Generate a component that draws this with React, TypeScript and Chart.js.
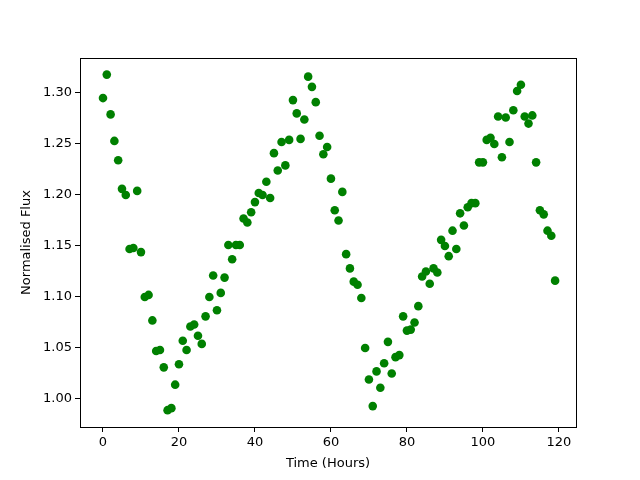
import React, { useEffect, useRef } from "react";
import { Chart, registerables } from "chart.js";

Chart.register(...registerables);

const hours: number[] = Array.from({ length: 120 }, (_, i) => i);
const flux: number[] = [
  1.295, 1.318, 1.279, 1.253, 1.234, 1.206, 1.200, 1.147, 1.148, 1.204,
  1.144, 1.100, 1.102, 1.077, 1.047, 1.048, 1.031, 0.989, 0.991, 1.014,
  1.034, 1.057, 1.048, 1.071, 1.073, 1.062, 1.054, 1.081, 1.100, 1.121,
  1.087, 1.104, 1.119, 1.151, 1.137, 1.151, 1.151, 1.177, 1.173, 1.183,
  1.193, 1.202, 1.200, 1.213, 1.197, 1.241, 1.224, 1.252, 1.229, 1.254,
  1.293, 1.280, 1.255, 1.274, 1.316, 1.306, 1.291, 1.258, 1.240, 1.247,
  1.216, 1.185, 1.175, 1.203, 1.142, 1.128, 1.115, 1.112, 1.099, 1.050,
  1.019, 0.993, 1.027, 1.011, 1.035, 1.056, 1.025, 1.041, 1.043, 1.081,
  1.067, 1.068, 1.075, 1.091, 1.120, 1.125, 1.113, 1.128, 1.124, 1.156,
  1.150, 1.140, 1.165, 1.147, 1.182, 1.170, 1.188, 1.192, 1.192, 1.232,
  1.232, 1.254, 1.256, 1.250, 1.277, 1.237, 1.276, 1.252, 1.283, 1.302,
  1.308, 1.277, 1.270, 1.278, 1.232, 1.185, 1.181, 1.165, 1.160, 1.116,
];
const xTicks: number[] = [0, 20, 40, 60, 80, 100, 120];
const yTicks: number[] = [1.0, 1.05, 1.1, 1.15, 1.2, 1.25, 1.3];
const xLabel = "Time (Hours)";
const yLabel = "Normalised Flux";

const FONT = "'DejaVu Sans', sans-serif";

const framePlugin = {
  id: "frame",
  afterDraw(chart: any) {
    const { ctx, chartArea } = chart;
    ctx.save();
    ctx.strokeStyle = "#000";
    ctx.lineWidth = 1;
    ctx.strokeRect(
      Math.round(chartArea.left) + 0.5,
      Math.round(chartArea.top) + 0.5,
      Math.round(chartArea.right - chartArea.left),
      Math.round(chartArea.bottom - chartArea.top)
    );
    ctx.restore();
  },
};

export default function App() {
  const ref = useRef<HTMLCanvasElement | null>(null);
  useEffect(() => {
    if (!ref.current) return;
    const chart = new Chart(ref.current, {
      type: "scatter",
      data: {
        datasets: [
          {
            data: hours.map((h, i) => ({ x: h, y: flux[i] })),
            backgroundColor: "#008000",
            borderColor: "#008000",
            pointRadius: 4.3,
            pointHoverRadius: 4.3,
            borderWidth: 0,
          },
        ],
      },
      options: {
        animation: false,
        responsive: false,
        layout: { padding: { top: 58, right: 64, left: 0, bottom: 0 } },
        plugins: { legend: { display: false }, tooltip: { enabled: false } },
        scales: {
          x: {
            type: "linear",
            min: -6.05,
            max: 124.5,
            afterBuildTicks: (s: any) => {
              s.ticks = xTicks.map((v) => ({ value: v }));
            },
            afterFit: (s: any) => {
              s.height = 53;
            },
            ticks: { color: "#000", font: { family: FONT, size: 13 }, padding: 3, maxRotation: 0 },
            grid: { drawOnChartArea: false, drawTicks: true, tickLength: 5, color: "#000" },
            border: { display: true, color: "#000" },
            title: { display: true, text: xLabel, color: "#000", font: { family: FONT, size: 13 }, padding: { top: 2, bottom: 9 } },
          },
          y: {
            type: "linear",
            min: 0.9725,
            max: 1.3343,
            afterBuildTicks: (s: any) => {
              s.ticks = yTicks.map((v) => ({ value: v }));
            },
            afterFit: (s: any) => {
              s.width = 80;
            },
            ticks: {
              color: "#000",
              font: { family: FONT, size: 13 },
              padding: 3,
              callback: (v: any) => Number(v).toFixed(2),
            },
            grid: { drawOnChartArea: false, drawTicks: true, tickLength: 5, color: "#000" },
            border: { display: true, color: "#000" },
            title: { display: true, text: yLabel, color: "#000", font: { family: FONT, size: 13 }, padding: { top: 19, bottom: 4 } },
          },
        },
      },
      plugins: [framePlugin],
    } as any);
    return () => chart.destroy();
  }, []);
  return (
    <div style={{ position: "fixed", left: 0, top: 0, width: 640, height: 480, background: "#fff" }}>
      <canvas ref={ref} width={640} height={480} style={{ width: 640, height: 480 }} />
    </div>
  );
}
